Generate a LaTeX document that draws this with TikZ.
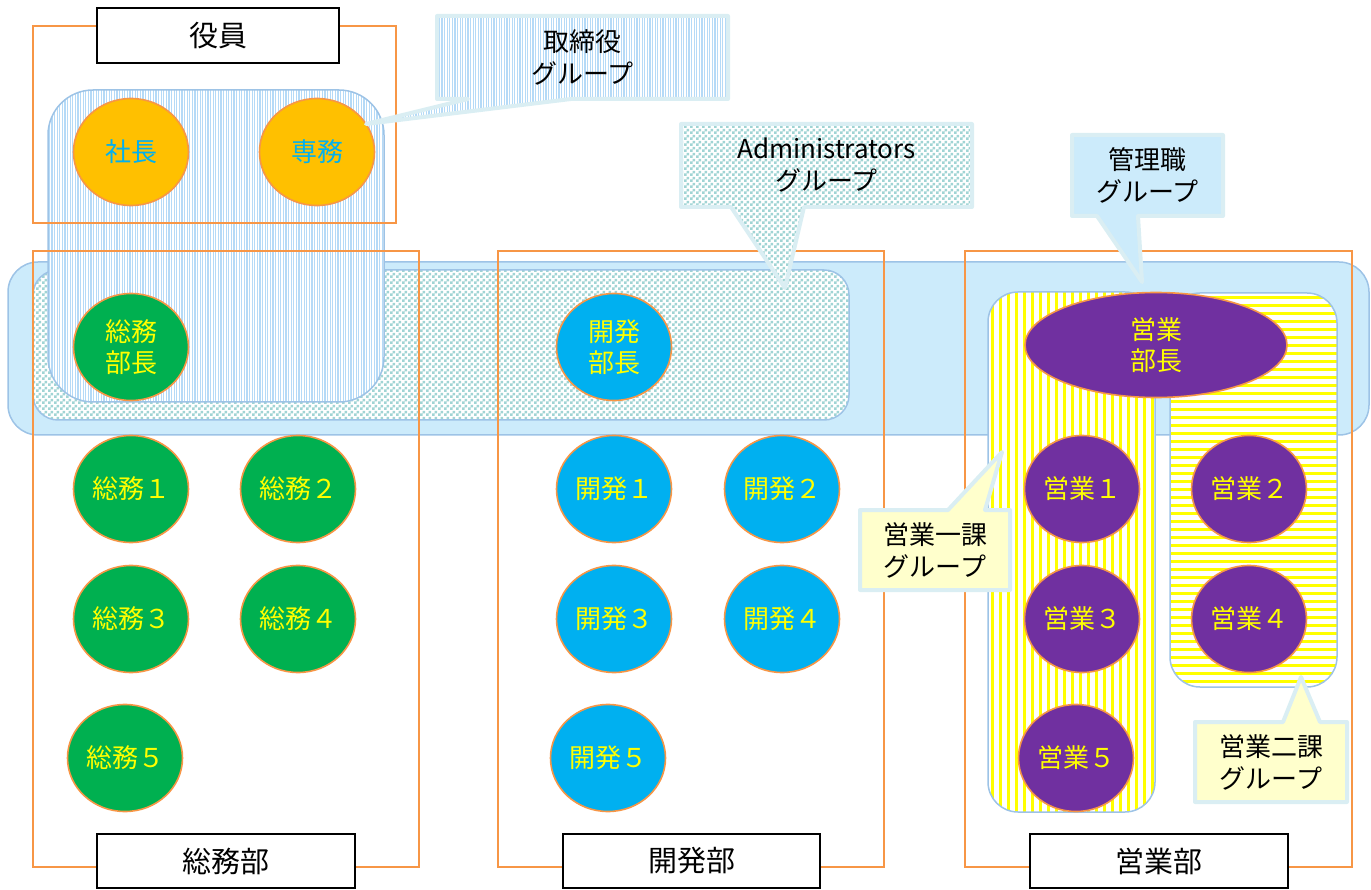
\documentclass[tikz,border=0pt]{standalone}
\usepackage{fontspec}
\setmainfont{Noto Sans CJK JP}
\usetikzlibrary{shapes.geometric,patterns,patterns.meta}
\pgfdeclarepatternformonly{checkthree}{\pgfpointorigin}{\pgfqpoint{6pt}{6pt}}{\pgfqpoint{6pt}{6pt}}{%
  \pgfpathrectangle{\pgfpointorigin}{\pgfqpoint{3pt}{3pt}}%
  \pgfpathrectangle{\pgfqpoint{3pt}{3pt}}{\pgfqpoint{3pt}{3pt}}%
  \pgfusepath{fill}}
\definecolor{orangeline}{HTML}{F79646}
\definecolor{grpline}{HTML}{9DC3E6}
\definecolor{mgrfill}{HTML}{CCEBFB}
\definecolor{callborder}{HTML}{DAEEF3}
\definecolor{checkc}{RGB}{160,212,212}
\definecolor{vlblue}{HTML}{B5DAF7}
\definecolor{yel}{HTML}{FFFF00}
\definecolor{lightyel}{HTML}{FFFFCC}
\definecolor{grn}{HTML}{00B050}
\definecolor{cyn}{HTML}{00B0F0}
\definecolor{prp}{HTML}{7030A0}
\definecolor{gold}{HTML}{FFC000}
\begin{document}
\begin{tikzpicture}[x=1pt,y=-1pt,
  dept/.style={draw=orangeline, line width=1.8pt},
  grp/.style={draw=grpline, line width=1.5pt},
  labelbox/.style={draw=black, line width=1.6pt, fill=white, minimum width=242pt, minimum height=55pt, inner sep=0pt, font=\fontsize{29}{32}\selectfont},
  person/.style={ellipse, draw=orangeline, line width=1.6pt, minimum width=115pt, minimum height=107pt, inner sep=0pt, text=yel, font=\fontsize{26}{31}\selectfont, align=center},
  callout/.style={draw=callborder, line width=4pt, line join=round},
  calltext/.style={font=\fontsize{26}{32}\selectfont, align=center, text=black}]
\useasboundingbox (0,0) rectangle (1371,890);

% groups
\draw[grp, fill=mgrfill, rounded corners=30pt] (8,262) rectangle (1369,435);
\draw[grp, preaction={fill=white}, pattern=checkthree, pattern color=checkc, rounded corners=25pt] (33,270) rectangle (849,420);
\draw[grp, preaction={fill=white}, pattern={Lines[angle=90,distance=2.6pt,line width=1.1pt]}, pattern color=vlblue, rounded corners=45pt] (48,90) rectangle (384,402);
\draw[grp, preaction={fill=white}, pattern={Lines[angle=0,distance=8pt,line width=3pt]}, pattern color=yel, rounded corners=30pt] (1170,293) rectangle (1337,687);
\draw[grp, preaction={fill=white}, pattern={Lines[angle=90,distance=8pt,line width=3pt]}, pattern color=yel, rounded corners=30pt] (988,292) rectangle (1155,812);

% departments
\draw[dept] (33,26) rectangle (396,223);
\draw[dept] (33,251) rectangle (419,867);
\draw[dept] (498,251) rectangle (884,867);
\draw[dept] (965,251) rectangle (1352,867);

\node[labelbox] (yakuin) at (218,35.5) {役員};
\node[labelbox, minimum width=258pt, minimum height=54pt] (soumubu) at (226,861) {総務部};
\node[labelbox, minimum width=257pt, minimum height=54pt] (kaihatsubu) at (691.5,861) {開発部};
\node[labelbox, minimum width=258pt, minimum height=54pt] (eigyoubu) at (1159,861) {営業部};

% people
\node[person, fill=gold, text=cyn] (shachou) at (131,152) {社長};
\node[person, fill=gold, text=cyn] (senmu) at (317,152) {専務};

\node[person, fill=grn] (sbuchou) at (131,347) {総務\\部長};
\node[person, fill=grn] (s1) at (131,489) {総務１};
\node[person, fill=grn] (s2) at (298,489) {総務２};
\node[person, fill=grn] (s3) at (131,619) {総務３};
\node[person, fill=grn] (s4) at (298,619) {総務４};
\node[person, fill=grn] (s5) at (125,758) {総務５};

\node[person, fill=cyn] (kbuchou) at (614,347) {開発\\部長};
\node[person, fill=cyn] (k1) at (614,489) {開発１};
\node[person, fill=cyn] (k2) at (782,489) {開発２};
\node[person, fill=cyn] (k3) at (614,619) {開発３};
\node[person, fill=cyn] (k4) at (782,619) {開発４};
\node[person, fill=cyn] (k5) at (608,758) {開発５};

\node[person, fill=prp, minimum width=262pt, minimum height=105pt] (ebuchou) at (1156,345) {営業\\部長};
\node[person, fill=prp] (e1) at (1082,489) {営業１};
\node[person, fill=prp] (e2) at (1249,489) {営業２};
\node[person, fill=prp] (e3) at (1082,619) {営業３};
\node[person, fill=prp] (e4) at (1249,619) {営業４};
\node[person, fill=prp] (e5) at (1076,758) {営業５};

% callouts
\draw[callout, preaction={fill=white}, pattern={Lines[angle=90,distance=2.6pt,line width=1.1pt]}, pattern color=vlblue]
  (437,16) -- (728,16) -- (728,99) -- (571,99) -- (366,124) -- (468,99) -- (437,99) -- cycle;
\node[calltext] (ctori) at (582.5,57.5) {取締役\\グループ};

\draw[callout, preaction={fill=white}, pattern=checkthree, pattern color=checkc]
  (681,124) -- (972,124) -- (972,207) -- (804,207) -- (785,288) -- (731,207) -- (681,207) -- cycle;
\node[calltext] (cadmin) at (826.5,165.5) {Administrators\\グループ};

\draw[callout, fill=mgrfill]
  (1072,135) -- (1223,135) -- (1223,216) -- (1138,216) -- (1142,282) -- (1097,216) -- (1072,216) -- cycle;
\node[calltext] (ckanri) at (1147.5,175.5) {管理職\\グループ};

\draw[callout, fill=lightyel]
  (860,510) -- (948,510) -- (1002,452) -- (985,510) -- (1010,510) -- (1010,590) -- (860,590) -- cycle;
\node[calltext] (cichi) at (935,550) {営業一課\\グループ};

\draw[callout, fill=lightyel]
  (1195,722) -- (1283,722) -- (1301,677) -- (1320,722) -- (1347,722) -- (1347,802) -- (1195,802) -- cycle;
\node[calltext] (cni) at (1271,762) {営業二課\\グループ};
\end{tikzpicture}
\end{document}
